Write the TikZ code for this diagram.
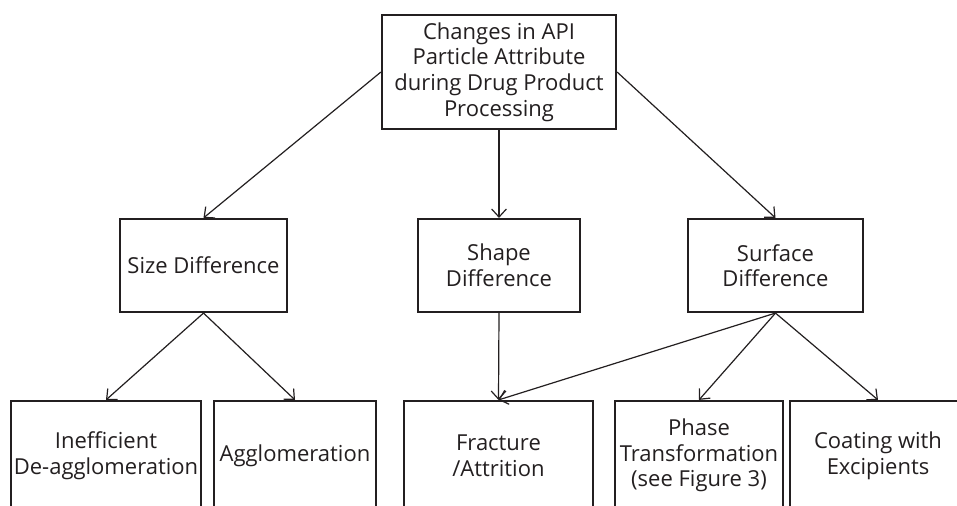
\documentclass[tikz,border=0pt]{standalone}
\usepackage{fontspec}
\setmainfont{Open Sans}
\usetikzlibrary{arrows.meta}
\definecolor{ink}{HTML}{231F20}
\tikzset{
  box/.style={draw=ink, line width=1.6pt, text=ink, align=center, inner sep=0pt,
    font=\fontsize{16.5}{19.2}\selectfont},
  conn/.style={draw=ink, line width=0.9pt, -{Straight Barb[length=6pt,width=11pt,line width=0.9pt]}},
}
\begin{document}
\begin{tikzpicture}[x=0.75pt,y=-0.75pt]
\useasboundingbox (0,0) rectangle (957,506);
\clip (0,0) rectangle (957,506);
\fill[white] (0,0) rectangle (957,506);
\node[box, minimum width=175.5pt, minimum height=85.5pt] (top) at (499,72)
  {Changes in API\\Particle Attribute\\during Drug Product\\Processing};
\node[box, minimum width=125.25pt, minimum height=69.75pt] (size) at (203.5,265.5) {Size Difference};
\node[box, minimum width=121.5pt, minimum height=69.75pt] (shape) at (499,265.5) {Shape\\Difference};
\node[box, minimum width=131.25pt, minimum height=69.75pt] (surface) at (775.5,265.5) {Surface\\Difference};
\node[box, minimum width=142.5pt, minimum height=81.75pt] (ineff) at (106,455.5) {Inefficient\\De-agglomeration};
\node[box, minimum width=121.5pt, minimum height=81.75pt] (agglom) at (295,455.5) {Agglomeration};
\node[box, minimum width=141.75pt, minimum height=81.75pt] (fract) at (498.5,455.5) {Fracture\\/Attrition};
\node[box, minimum width=126pt, minimum height=81.75pt] (phase) at (699,455.5) {Phase\\Transformation\\(see Figure 3)};
\node[box, minimum width=132pt, minimum height=81.75pt] (coat) at (878,455.5) {Coating with\\Excipients};
\draw[conn] (top.west) -- (size.north);
\draw[conn] (top.south) -- (shape.north);
\draw[conn] (top.east) -- (surface.north);
\draw[conn] (size.south) -- (ineff.north);
\draw[conn] (size.south) -- (agglom.north);
\draw[conn] (shape.south) -- (fract.north);
\draw[conn] (surface.south) -- (fract.north);
\draw[conn] (surface.south) -- (phase.north);
\draw[conn] (surface.south) -- (coat.north);
\end{tikzpicture}
\end{document}
